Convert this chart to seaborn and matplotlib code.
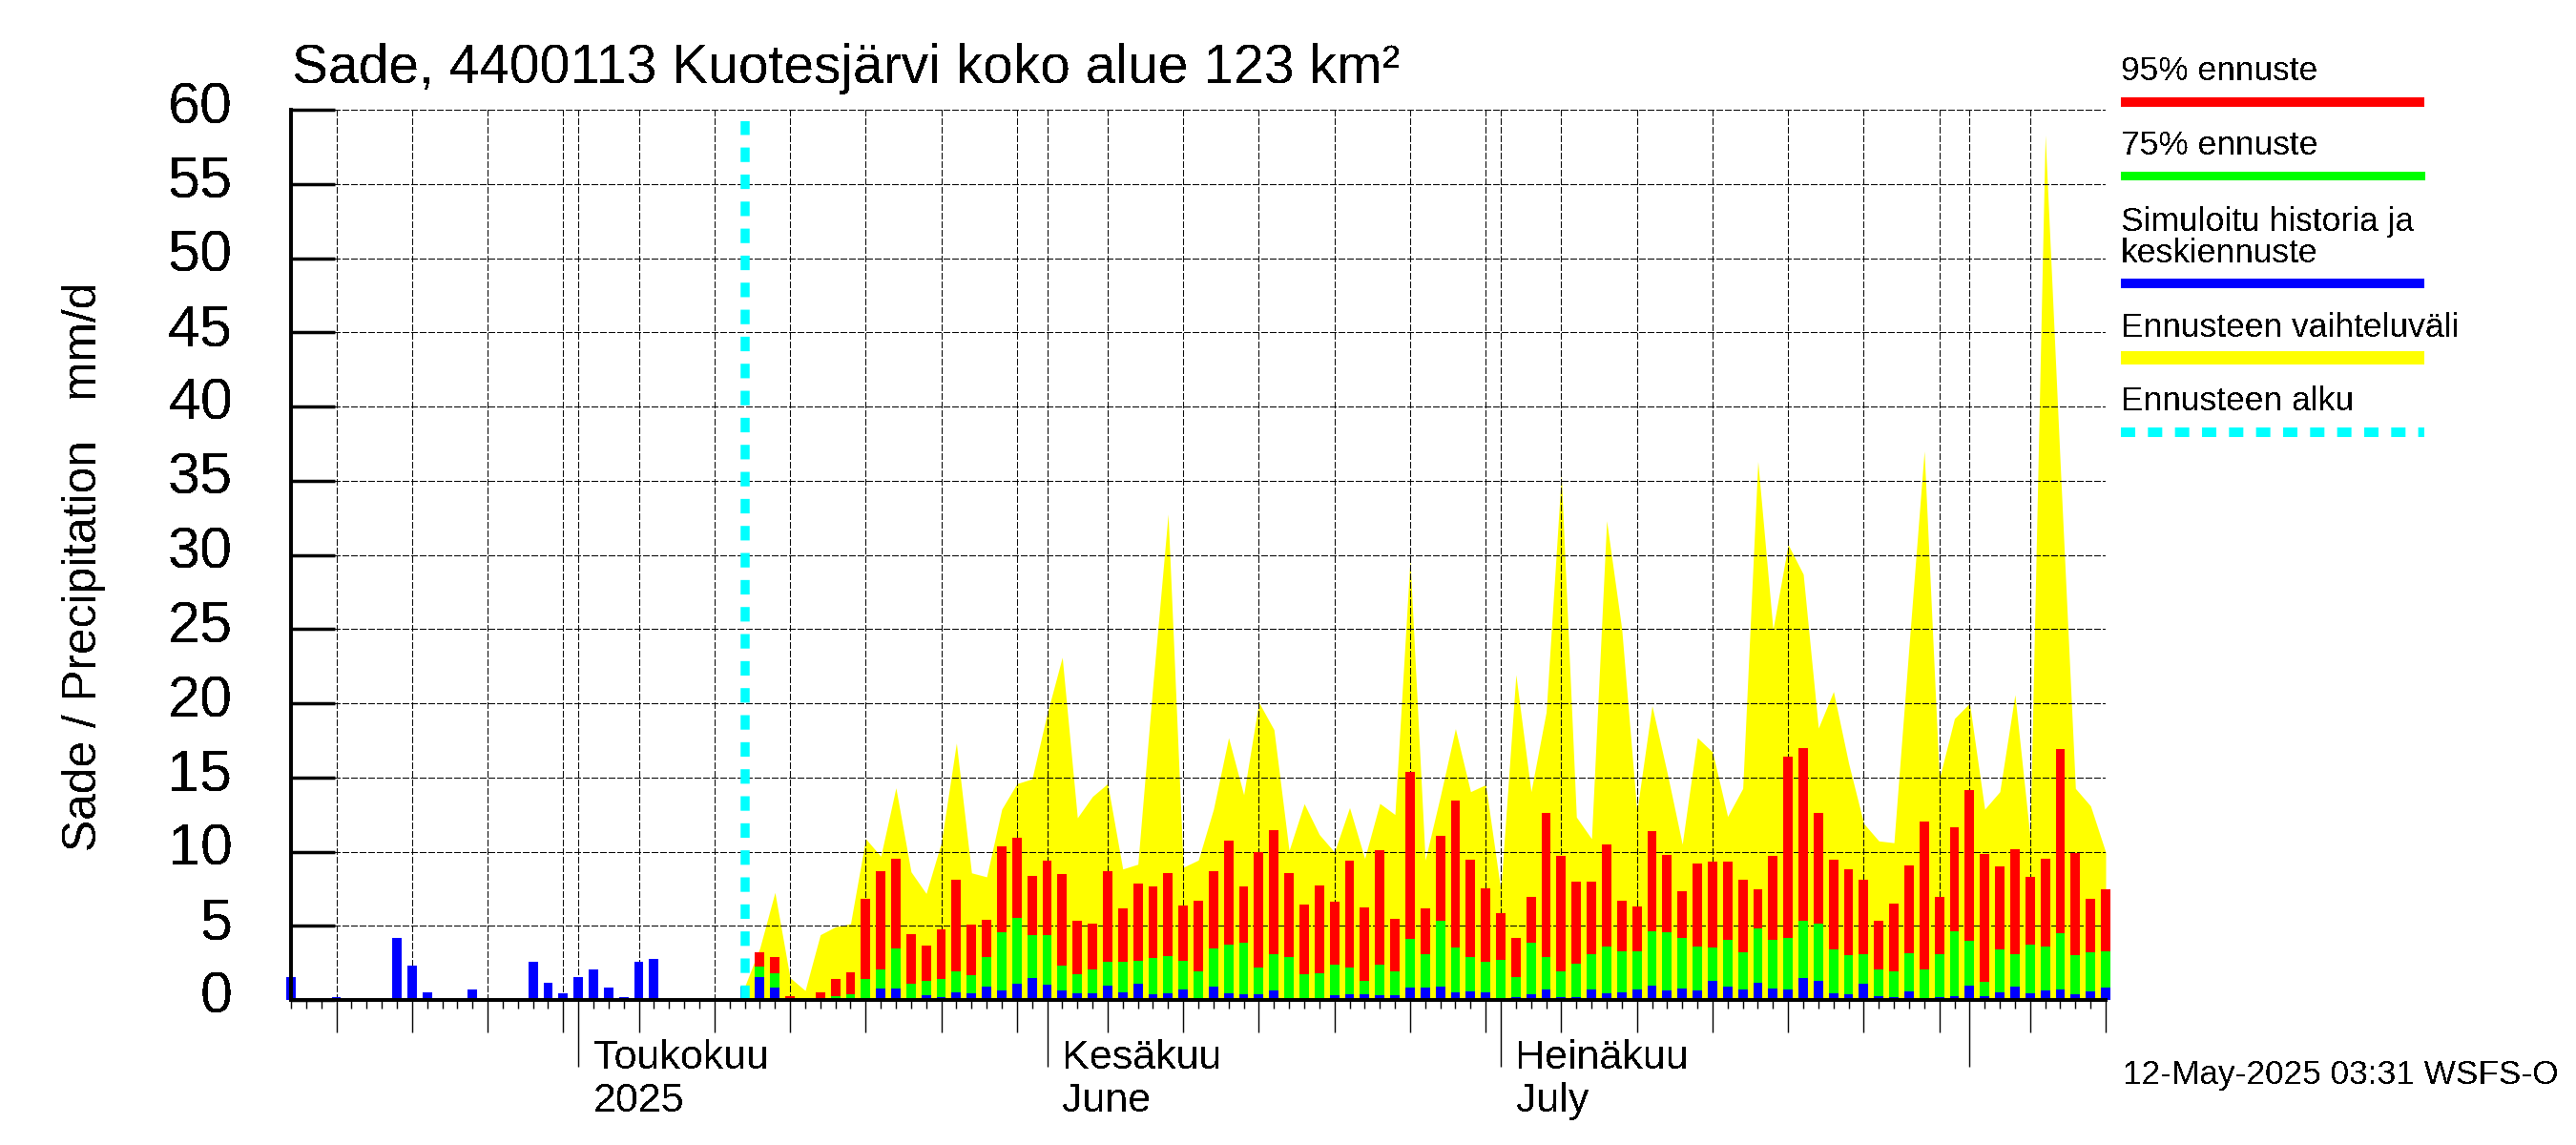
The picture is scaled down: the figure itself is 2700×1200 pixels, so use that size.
import pandas as pd
import seaborn as sns
import matplotlib.pyplot as plt
from matplotlib.lines import Line2D
from matplotlib.transforms import ScaledTranslation

# Havaittu / simuloitu sade, paivat 12.4. - 12.5.
historia = [1.52, 0, 0.05, 0.17, 0, 0, 0.1, 4.16, 2.3, 0.5,
            0.05, 0.05, 0.69, 0.05, 0, 0, 2.6, 1.14, 0.43, 1.52,
            2.04, 0.81, 0.17, 2.55, 2.74, 0, 0, 0, 0.05, 0.05, 0.9]

# Ennusteet 13.5. - 10.8.
ennuste_95 = [3.24, 2.92, 0.28, 0.09, 0.54, 1.44, 1.89, 6.84, 8.7, 9.54,
              4.46, 3.69, 4.78, 8.12, 5.1, 5.42, 10.38, 10.95, 8.38, 9.41,
              8.51, 5.36, 5.17, 8.7, 6.2, 7.87, 7.67, 8.57, 6.39, 6.71,
              8.7, 10.76, 7.67, 9.99, 11.47, 8.57, 6.45, 7.74, 6.65, 9.41,
              6.26, 10.12, 5.49, 15.39, 6.2, 11.08, 13.46, 9.47, 7.55, 5.87,
              4.2, 6.97, 12.63, 9.73, 8.0, 8.0, 10.5, 6.71, 6.32, 11.4,
              9.8, 7.35, 9.22, 9.35, 9.35, 8.12, 7.48, 9.73, 16.42, 17.0,
              12.63, 9.47, 8.83, 8.12, 5.36, 6.52, 9.09, 12.05, 6.97, 11.66,
              14.17, 9.86, 9.02, 10.18, 8.32, 9.54, 16.93, 9.92, 6.84, 7.48]
ennuste_75 = [2.27, 1.82, 0.09, 0.02, 0.15, 0.28, 0.41, 1.44, 2.08, 3.49,
              1.11, 1.31, 1.44, 1.95, 1.69, 2.92, 4.59, 5.55, 4.39, 4.39,
              2.34, 1.76, 2.08, 2.59, 2.59, 2.66, 2.85, 2.98, 2.66, 1.95,
              3.49, 3.75, 3.88, 2.21, 3.11, 2.92, 1.76, 1.82, 2.4, 2.21,
              1.31, 2.4, 1.95, 4.14, 3.11, 5.36, 3.56, 2.92, 2.59, 2.72,
              1.56, 3.88, 2.92, 1.95, 2.47, 3.11, 3.62, 3.3, 3.3, 4.65,
              4.59, 4.2, 3.62, 3.56, 4.07, 3.24, 4.84, 4.07, 4.2, 5.36,
              5.17, 3.43, 3.04, 3.11, 2.08, 1.95, 3.17, 2.08, 3.11, 4.65,
              4.01, 1.24, 3.43, 3.11, 3.75, 3.62, 4.52, 3.04, 3.24, 3.3]
keskiennuste = [1.56, 0.86, 0.02, 0, 0.06, 0.06, 0.02, 0.15, 0.79, 0.79,
                0.15, 0.34, 0.21, 0.54, 0.47, 0.92, 0.66, 1.11, 1.5, 1.05,
                0.66, 0.47, 0.47, 0.99, 0.54, 1.11, 0.41, 0.47, 0.73, 0.15,
                0.92, 0.47, 0.41, 0.41, 0.66, 0.15, 0.09, 0.15, 0.34, 0.41,
                0.41, 0.34, 0.34, 0.86, 0.86, 0.92, 0.54, 0.6, 0.54, 0.09,
                0.21, 0.41, 0.73, 0.21, 0.21, 0.73, 0.47, 0.54, 0.73, 0.99,
                0.66, 0.79, 0.66, 1.31, 0.92, 0.73, 1.18, 0.79, 0.73, 1.5,
                1.31, 0.47, 0.41, 1.11, 0.28, 0.21, 0.6, 0.15, 0.21, 0.28,
                0.99, 0.28, 0.54, 0.92, 0.47, 0.66, 0.73, 0.41, 0.6, 0.86]

# Ennusteen vaihteluvalin ylaraja 12.5. - 10.8.
vaihteluvali = [0.9, 3.5, 7.25, 1.5, 0.64, 4.4, 4.93, 5.14, 10.87, 9.69, 14.3,
                8.64, 7.18, 10.6, 17.32, 8.57, 8.3, 12.86, 14.58, 14.9, 19.3,
                23.1, 12.28, 13.72, 14.58, 8.83, 9.15, 21.3, 32.75, 8.94, 9.43,
                12.86, 17.68, 13.83, 20.06, 18.22, 10.07, 13.23, 11.15, 9.97, 12.97,
                9.54, 13.25, 12.5, 29.7, 9.43, 13.72, 18.29, 14.04, 14.51, 7.4,
                21.93, 14.04, 19.4, 35.4, 12.33, 10.87, 32.3, 25, 12.7, 19.83,
                15.33, 10.5, 17.68, 16.72, 12.37, 14.26, 36.3, 24.97, 30.7, 28.7,
                18.33, 20.79, 15.97, 11.9, 10.72, 10.6, 23.9, 37, 14.9, 18.97,
                20, 12.86, 14.04, 20.58, 11, 58.3, 36, 14.26, 13.08, 9.97]

otsikko = "Sade, 4400113 Kuotesjärvi koko alue 123 km²"
pystyakseli = "Sade / Precipitation   mm/d"
y_tikit = list(range(0, 65, 5))
kuukaudet = [("2025-05-01", "Toukokuu", "2025"),
             ("2025-06-01", "Kesäkuu", "June"),
             ("2025-07-01", "Heinäkuu", "July")]
selitteet = ["95% ennuste", "75% ennuste", "Simuloitu historia ja\nkeskiennuste",
             "Ennusteen vaihteluväli", "Ennusteen alku"]
aikaleima = "12-May-2025 03:31 WSFS-O"

paivat = pd.date_range("2025-04-12", "2025-08-10")
paiva_nro = list(range(len(paivat)))
ennuste_alku = len(historia) - 1
nro_hist = paiva_nro[:ennuste_alku + 1]
nro_vaihtelu = paiva_nro[ennuste_alku:]
nro_ennuste = paiva_nro[ennuste_alku + 1:]

sns.set_theme(style="ticks")
plt.rcParams["font.family"] = ["Liberation Sans", "DejaVu Sans"]
plt.rcParams["text.antialiased"] = False
plt.rcParams["lines.antialiased"] = False
plt.rcParams["patch.antialiased"] = False

LEV, KOR = 2700, 1200
fig = plt.figure(figsize=(LEV / 100, KOR / 100), dpi=100, facecolor="white")
ax = fig.add_axes([305 / LEV, 1 - 1048 / KOR, (2207 - 305) / LEV, (1048 - 115) / KOR])


def pt(px):
    return px * 72 / 100


ax.fill_between(nro_vaihtelu, 0, vaihteluvali, color="#ffff00", linewidth=0, zorder=1, antialiased=False)

# palkit paallekkain, suurin ensin
for arvot, nrot, vari in [(ennuste_95, nro_ennuste, "#ff0000"),
                          (ennuste_75, nro_ennuste, "#00ff00"),
                          (keskiennuste, nro_ennuste, "#0000ff"),
                          (historia, nro_hist, "#0000ff")]:
    sns.barplot(x=nrot, y=arvot, color=vari, saturation=1, width=0.62, native_scale=True,
                errorbar=None, linewidth=0, zorder=3, clip_on=False, ax=ax)

# antialiased paalla, koska muuten agg pyoristaa katkojen pituudet
ax.plot([ennuste_alku, ennuste_alku], [0, 59.2], color="#00ffff", linewidth=pt(9.5),
        dashes=(1.6, 1.382), dash_capstyle="butt", zorder=4, antialiased=True)

ax.set_xlim(0, 120)
ax.set_ylim(0, 60)
ax.set_xlabel("")
ax.set_ylabel("")

# akselit
kk_paivat = [paivat.get_loc(pd.Timestamp(k[0])) for k in kuukaudet] + [paivat.get_loc(pd.Timestamp("2025-08-01"))]
isot = [i for i, p in enumerate(paivat) if p.day in (1, 5, 10, 15, 20, 25, 30)]
ax.set_xticks(isot)
ax.set_xticks(paiva_nro, minor=True)
ax.set_xticklabels([])
ax.set_yticks(y_tikit)
ax.set_axisbelow(False)
ax.grid(True, which="major", color="black", linestyle=(0, (5.85, 2.5)), linewidth=0.8, zorder=2)
ax.tick_params(axis="x", which="major", length=pt(34), width=1, color="black", direction="out")
ax.tick_params(axis="x", which="minor", length=pt(9), width=1, color="black", direction="out")
ax.tick_params(axis="y", which="major", length=pt(46), width=2.5, color="black", direction="in",
               labelsize=44, pad=pt(61), labelcolor="black")
for merkki in ax.yaxis.get_ticklabels():
    merkki.set_transform(merkki.get_transform() + ScaledTranslation(0, 8 / 100, fig.dpi_scale_trans))
for tikki, nro in zip(ax.xaxis.get_major_ticks(), isot):
    if nro in kk_paivat:
        tikki.tick1line.set_markersize(pt(70))

sns.despine(ax=ax)
for reuna in ("left", "bottom"):
    ax.spines[reuna].set_linewidth(2.6)
    ax.spines[reuna].set_color("black")
    ax.spines[reuna].set_zorder(5)

# kuukausien nimet
muunnos = ax.get_xaxis_transform()
for (pvm, rivi1, rivi2), nro in zip(kuukaudet, kk_paivat):
    ax.text(nro + 1, -72 / 933, rivi1, transform=muunnos, fontsize=31, color="black", va="baseline", ha="left")
    ax.text(nro + 1, -117 / 933, rivi2, transform=muunnos, fontsize=31, color="black", va="baseline", ha="left")

fig.text(306 / LEV, 1 - 87 / KOR, otsikko, fontsize=41, color="black", va="baseline", ha="left")
fig.text(88 / LEV, 1 - 594 / KOR, pystyakseli, fontsize=35.7, color="black", rotation=90, va="center", ha="center")
fig.text(2225 / LEV, 1 - 1136 / KOR, aikaleima, fontsize=25.4, color="black", va="baseline", ha="left")

# selite oikealla
for teksti, y_txt, y_viiva, paksuus, vari in [(selitteet[0], 84, 107, 10, "#ff0000"),
                                              (selitteet[1], 162, 184, 9, "#00ff00"),
                                              (selitteet[2], 275, 297, 10, "#0000ff"),
                                              (selitteet[3], 353, 375, 14, "#ffff00"),
                                              (selitteet[4], 430, 453, 10, "#00ffff")]:
    fig.text(2223 / LEV, 1 - y_txt / KOR, teksti, fontsize=25.5, color="black", va="baseline", ha="left",
             linespacing=1.0)
    viiva = Line2D([2223 / LEV, 2541 / LEV], [1 - y_viiva / KOR] * 2, transform=fig.transFigure,
                   color=vari, linewidth=pt(paksuus), solid_capstyle="butt", dash_capstyle="butt")
    if vari == "#00ffff":
        viiva.set_dashes((1.5, 1.333))
        viiva.set_antialiased(True)
    fig.add_artist(viiva)

fig.savefig("out.png", dpi=100, facecolor="white")
